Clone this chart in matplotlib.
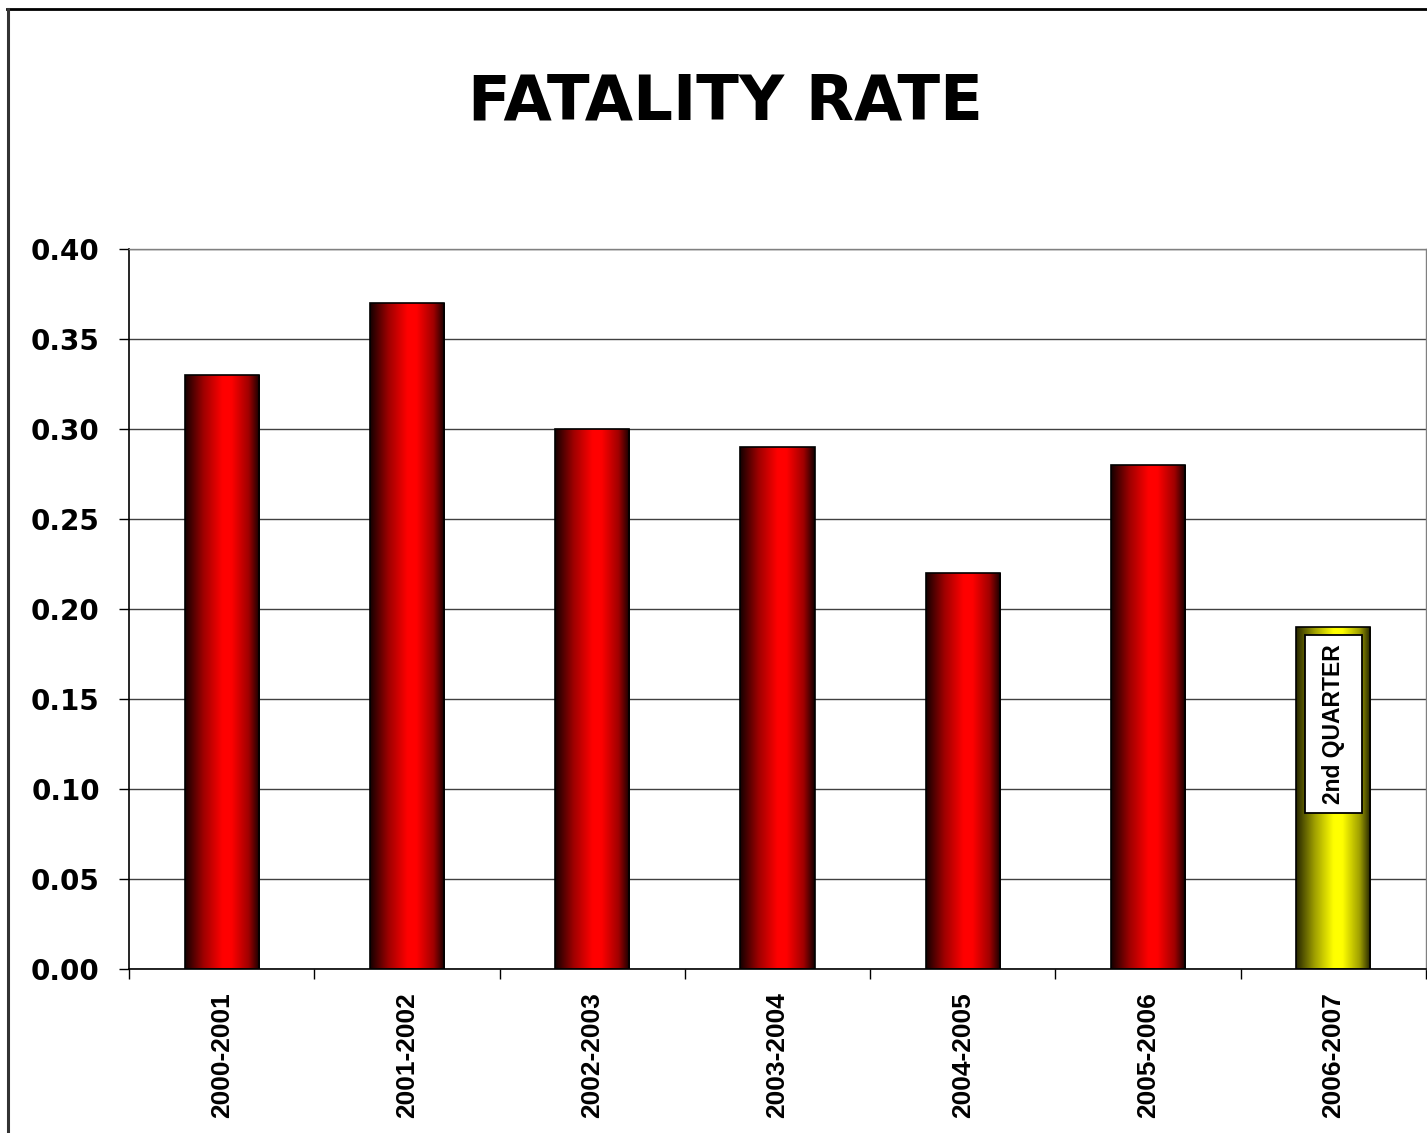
import numpy as np
import matplotlib
matplotlib.use("Agg")
import matplotlib.pyplot as plt
from matplotlib.lines import Line2D
from matplotlib.patches import Rectangle
from matplotlib.colors import LinearSegmentedColormap

# ---- data ----
categories = ["2000-2001", "2001-2002", "2002-2003", "2003-2004",
              "2004-2005", "2005-2006", "2006-2007"]
values = [0.33, 0.37, 0.30, 0.29, 0.22, 0.28, 0.19]
bar_kind = ["red", "red", "red", "red", "red", "red", "yellow"]
title_text = "FATALITY RATE"
note_text = "2nd QUARTER"
y_ticks = [0.00, 0.05, 0.10, 0.15, 0.20, 0.25, 0.30, 0.35, 0.40]

# ---- figure ----
W, H, DPI = 1427, 1133, 100
fig = plt.figure(figsize=(W / DPI, H / DPI), dpi=DPI)
fig.patch.set_facecolor("white")

ax = fig.add_axes([129 / W, 1 - 969 / H, (1426 - 129) / W, 720 / H])

# gradient colormaps
red_cmap = LinearSegmentedColormap.from_list(
    "redgrad", [(0.0, "#140000"), (0.25, "#a00000"), (0.5, "#ff0000"),
                (0.62, "#ff0000"), (0.85, "#a00000"), (1.0, "#120000")])
yel_cmap = LinearSegmentedColormap.from_list(
    "yelgrad", [(0.0, "#262600"), (0.25, "#a0a000"), (0.5, "#ffff00"),
                (0.62, "#ffff00"), (0.85, "#a0a000"), (1.0, "#202000")])
grad = np.linspace(0, 1, 256).reshape(1, -1)

x = np.arange(len(categories))
width = 0.4

ax.set_axisbelow(True)
ax.yaxis.grid(True, color="#404040", linewidth=1.0, zorder=0)

bars = ax.bar(x, values, width=width, facecolor="none",
              edgecolor="black", linewidth=1.2, zorder=3)
for b, kind in zip(bars, bar_kind):
    cmap = red_cmap if kind == "red" else yel_cmap
    x0 = b.get_x()
    im = ax.imshow(grad, cmap=cmap, aspect="auto",
                   extent=[x0, x0 + b.get_width(), 0, b.get_height()],
                   zorder=2, interpolation="bicubic")
    im.set_clip_path(b)

ax.set_xlim(-0.5, len(categories) - 0.5)
ax.set_ylim(0, 0.40)

# y axis
ax.set_yticks(y_ticks)
ax.set_yticklabels([f"{v:.2f}" for v in y_ticks], fontsize=20,
                   fontweight="bold", family="DejaVu Sans")
ax.tick_params(axis="y", direction="out", length=7, width=1, color="black", pad=14)

# x axis
ax.set_xticks(x)
ax.set_xticklabels(categories, rotation=90, fontsize=19,
                   fontweight="bold", family="Liberation Sans")
ax.tick_params(axis="x", which="major", length=0, pad=17)
ax.set_xticks(np.arange(-0.5, len(categories), 1.0), minor=True)
ax.tick_params(axis="x", which="minor", direction="out", length=7,
               width=1, color="black")

for s in ["top", "right"]:
    ax.spines[s].set_color("#808080")
    ax.spines[s].set_linewidth(1.0)
for s in ["left", "bottom"]:
    ax.spines[s].set_color("black")
    ax.spines[s].set_linewidth(1.2)

# note box on last bar
last = bars[-1]
bw = last.get_width() * 0.76
box_top = values[-1] - 0.0045
box_bot = 0.0867
ax.add_patch(Rectangle((x[-1] - bw / 2, box_bot), bw, box_top - box_bot,
                       facecolor="white", edgecolor="black", linewidth=1.3,
                       zorder=4))
ax.text(x[-1], (box_top + box_bot) / 2, note_text, rotation=90,
        ha="center", va="center", fontsize=16.5, fontweight="bold",
        family="Liberation Sans", zorder=5)

# title
fig.text(725 / W, 1 - 103 / H, title_text, ha="center", va="center",
         fontsize=45, fontweight="bold", family="DejaVu Sans")

# outer border (top and left)
fig.add_artist(Line2D([7 / W, 1.0], [1 - 9 / H, 1 - 9 / H],
                      transform=fig.transFigure, color="black", linewidth=2))
fig.add_artist(Line2D([7.5 / W, 7.5 / W], [0.0, 1 - 9 / H],
                      transform=fig.transFigure, color="#333333", linewidth=2.2))

fig.savefig("out.png", dpi=DPI, facecolor="white")
